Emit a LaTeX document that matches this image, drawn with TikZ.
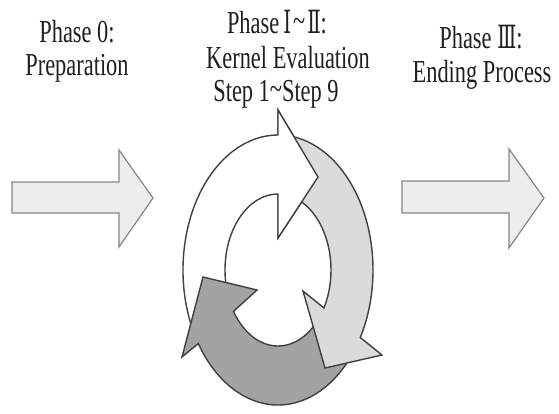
\documentclass[tikz,border=0pt]{standalone}
\usepackage{fontspec}
\usetikzlibrary{calc}
\setmainfont[FakeStretch=0.7]{Liberation Serif}
\newfontfamily\romfont[FakeStretch=0.62]{DejaVu Serif}
\begin{document}
\begin{tikzpicture}[x=1pt,y=-1pt]
\tikzset{
  lbl/.style={anchor=base, inner sep=0pt, text=black!88, font=\fontsize{32}{36}\selectfont},
  flowarrow/.style={draw=black!48, fill=black!7, line width=1.2pt, line join=miter},
  ringarrow/.style={draw=black!75, line width=1.4pt, line join=miter},
}
\useasboundingbox (0,0) rectangle (559,413);
\fill[white] (0,0) rectangle (559,413);

% labels
\node[lbl] (p1a) at (277,33) {Phase\hspace{4pt}{\romfont Ⅰ}\hspace{2pt}\raisebox{2pt}{\textasciitilde}\hspace{2pt}{\romfont Ⅱ}:};
\node[lbl] (p0a) at (77,42) {Phase 0:};
\node[lbl] (p0b) at (77,75) {Preparation};
\node[lbl] (p1b) at (288,68) {Kernel Evaluation};
\node[lbl] (p1c) at (276,101) {Step 1\raisebox{2pt}{\textasciitilde}Step 9};
\node[lbl] (p3a) at (481,48) {Phase {\romfont Ⅲ}:};
\node[lbl] (p3b) at (482,82) {Ending Process};

% straight arrows
\draw[flowarrow] (12,182) -- (119,182) -- (119,150) -- (153,198) -- (119,247) -- (119,213) -- (12,213) -- cycle;
\draw[flowarrow] (402,181) -- (509,181) -- (509,149) -- (544,198) -- (509,248) -- (509,213) -- (402,213) -- cycle;

% cycle arrows (centre 278,270; outer 95x135; inner 53x76)
\coordinate (C) at (278,270);
\def\whitepath{(C) ++(153:95 and 135) arc[start angle=153, end angle=270, x radius=95, y radius=135]
   -- (278,110) -- (318,177) -- (278,238) -- (278,194)
   arc[start angle=270, end angle=153, x radius=53, y radius=76] -- cycle}
% white arrow
\draw[ringarrow, fill=white] \whitepath;
% dark arrow
\draw[ringarrow, fill=black!36] (C) ++(35:95 and 135) arc[start angle=35, end angle=147, x radius=95, y radius=135]
   -- (182,357) -- (203,277) -- (257,290) -- ($(C)+(147:53 and 76)$)
   arc[start angle=147, end angle=35, x radius=53, y radius=76] -- cycle;
% light gray arrow
\draw[ringarrow, fill=black!14] (C) ++(276:95 and 135) arc[start angle=276, end angle=390, x radius=95, y radius=135]
   -- (382,355) -- (325,368) -- (303,291) -- ($(C)+(30:53 and 76)$)
   arc[start angle=390, end angle=276, x radius=53, y radius=76] -- cycle;
% white arrow head on top
\begin{scope}
  \clip (276.5,100) rectangle (335,250);
  \draw[ringarrow, fill=white] \whitepath;
\end{scope}
\end{tikzpicture}
\end{document}
